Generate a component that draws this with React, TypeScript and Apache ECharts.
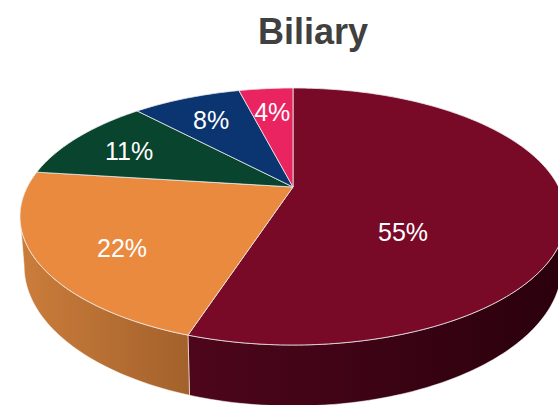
import React, { useEffect, useRef } from "react";
import * as echarts from "echarts";

const chartTitle = "Biliary";
const sliceNames = ["Slice 1", "Slice 2", "Slice 3", "Slice 4", "Slice 5"];
const sliceValues = [55, 22, 11, 8, 4];
const topColors = ["#780A28", "#E98A3F", "#08442E", "#0A3570", "#EA2460"];
const wallLeftColors = ["#4E061B", "#CB7D3B", "#063A27", "#08305F", "#C81E50"];
const wallRightColors = ["#2A000C", "#A3612B", "#042A1C", "#052248", "#A01840"];

// projection parameters (perspective ellipse)
const CX = 293;
const CY = 187;
const AX = 265.7;
const G = 0.2296;
const DV = -78.8;
const DEPTH = 47;
const TAPER = 0.985;
const LABEL_SCALE = 1.15;

function proj(theta: number): [number, number, number] {
  const u = Math.sin(theta);
  const v = Math.cos(theta);
  const den = 1 + G * v;
  return [CX + (AX * u) / den, (CY + DV * v) / den, den];
}
function projBottom(theta: number): [number, number] {
  const [x, y, den] = proj(theta);
  return [CX + (x - CX) * TAPER, y + DEPTH / den];
}

export default function App() {
  const ref = useRef<HTMLDivElement>(null);
  useEffect(() => {
    if (!ref.current) return;
    const chart = echarts.init(ref.current, undefined, { renderer: "svg" });
    const total = sliceValues.reduce((a, b) => a + b, 0);
    const cum: number[] = [0];
    sliceValues.forEach((v) => cum.push(cum[cum.length - 1] + v));
    const thL = Math.acos(-G);
    const thR = 2 * Math.PI - thL;

    const renderItem = (params: any, api: any) => {
      const i = params.dataIndex;
      const val = api.value(0);
      const start = (cum[i] / total) * 2 * Math.PI;
      const end = start + (val / total) * 2 * Math.PI;
      const step = Math.PI / 180;
      const n = Math.max(6, Math.ceil((end - start) / step));
      const topPts: number[][] = [[CX, CY]];
      for (let k = 0; k <= n; k++) {
        const th = start + ((end - start) * k) / n;
        const p = proj(th);
        topPts.push([p[0], p[1]]);
      }
      const children: any[] = [];
      const lo = Math.max(start, thL);
      const hi = Math.min(end, thR);
      if (hi > lo) {
        const m = Math.max(4, Math.ceil((hi - lo) / step));
        const upper: number[][] = [];
        const lower: number[][] = [];
        for (let k = 0; k <= m; k++) {
          const th = lo + ((hi - lo) * k) / m;
          const p = proj(th);
          upper.push([p[0], p[1]]);
          lower.push(projBottom(th));
        }
        const pts = upper.concat(lower.reverse());
        const xs = pts.map((p) => p[0]);
        const x0 = Math.min(...xs);
        const x1 = Math.max(...xs);
        children.push({
          type: "polygon",
          z2: 1,
          shape: { points: pts },
          style: {
            fill: new echarts.graphic.LinearGradient(
              x0, 0, x1, 0,
              [
                { offset: 0, color: wallLeftColors[i] },
                { offset: 1, color: wallRightColors[i] },
              ],
              true
            ),
            stroke: "rgba(255,255,255,0.55)",
            lineWidth: 1,
          },
        });
      }
      children.push({
        type: "polygon",
        z2: 5,
        shape: { points: topPts },
        style: {
          fill: topColors[i],
          stroke: "rgba(235,235,235,0.8)",
          lineWidth: 1,
        },
      });
      // centroid of the top face, pushed outward a little
      let area = 0, gx = 0, gy = 0;
      for (let k = 0; k < topPts.length; k++) {
        const [xa, ya] = topPts[k];
        const [xb, yb] = topPts[(k + 1) % topPts.length];
        const c = xa * yb - xb * ya;
        area += c;
        gx += (xa + xb) * c;
        gy += (ya + yb) * c;
      }
      area /= 2;
      gx /= 6 * area;
      gy /= 6 * area;
      const lx = CX + (gx - CX) * LABEL_SCALE;
      const ly = CY + (gy - CY) * LABEL_SCALE;
      children.push({
        type: "text",
        z2: 20,
        x: lx,
        y: ly,
        style: {
          text: Math.round((val / total) * 100) + "%",
          fill: "#ffffff",
          font: '25px "Liberation Sans", Arial, sans-serif',
          align: "center",
          textAlign: "center",
          verticalAlign: "middle",
          textVerticalAlign: "middle",
        },
      });
      return { type: "group", children };
    };

    chart.setOption({
      animation: false,
      backgroundColor: "#ffffff",
      graphic: [
        {
          type: "text",
          x: 313,
          y: 31,
          style: {
            text: chartTitle,
            fill: "#404040",
            font: 'bold 36px "Liberation Sans", Arial, sans-serif',
            align: "center",
            textAlign: "center",
            verticalAlign: "middle",
            textVerticalAlign: "middle",
          },
        },
      ],
      series: [
        {
          type: "custom",
          coordinateSystem: "none",
          silent: true,
          renderItem,
          data: sliceValues.map((v, i) => ({ value: v, name: sliceNames[i] })),
        },
      ],
    });
    return () => chart.dispose();
  }, []);
  return (
    <div
      ref={ref}
      style={{ position: "fixed", left: 0, top: 0, width: 558, height: 405 }}
    />
  );
}
